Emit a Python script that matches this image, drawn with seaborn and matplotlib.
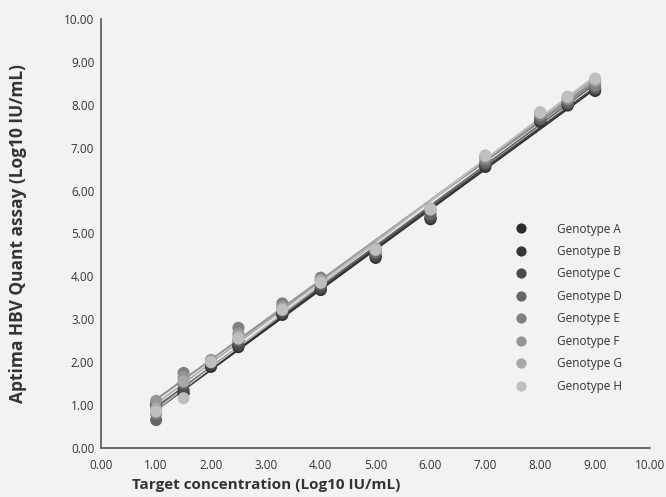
import numpy as np
import pandas as pd
import matplotlib
matplotlib.use("Agg")
import matplotlib.pyplot as plt
import seaborn as sns

# target concentrations (Log10 IU/mL)
target = [1.0, 1.5, 2.0, 2.5, 3.3, 4.0, 5.0, 6.0, 7.0, 8.0, 8.5, 9.0]

geno_a = [0.95, 1.27, 1.89, 2.35, 3.10, 3.68, 4.43, 5.33, 6.55, 7.60, 7.98, 8.32]
geno_b = [1.00, 1.30, 1.92, 2.38, 3.12, 3.70, 4.45, 5.35, 6.57, 7.62, 8.00, 8.34]
geno_c = [1.05, 1.35, 1.95, 2.40, 3.15, 3.72, 4.48, 5.38, 6.60, 7.65, 8.02, 8.36]
geno_d = [0.65, 1.50, 2.00, 2.50, 3.20, 3.80, 4.55, 5.45, 6.65, 7.68, 8.05, 8.40]
geno_e = [0.80, 1.75, 2.05, 2.80, 3.37, 3.97, 4.60, 5.55, 6.72, 7.75, 8.12, 8.45]
geno_f = [1.10, 1.65, 2.04, 2.67, 3.30, 3.92, 4.62, 5.56, 6.78, 7.80, 8.15, 8.55]
geno_g = [0.92, 1.55, 2.02, 2.60, 3.25, 3.90, 4.65, 5.58, 6.80, 7.82, 8.18, 8.58]
geno_h = [0.85, 1.16, 2.00, 2.55, 3.22, 3.85, 4.62, 5.56, 6.82, 7.82, 8.19, 8.61]

labels = ["Genotype A", "Genotype B", "Genotype C", "Genotype D",
          "Genotype E", "Genotype F", "Genotype G", "Genotype H"]
colors = ["#2b2b2b", "#363636", "#4a4a4a", "#656565",
          "#808080", "#959595", "#a8a8a8", "#bfbfbf"]
ticks = [0, 1, 2, 3, 4, 5, 6, 7, 8, 9, 10]

series = [geno_a, geno_b, geno_c, geno_d, geno_e, geno_f, geno_g, geno_h]
df = pd.concat([
    pd.DataFrame({"target": target, "measured": vals, "genotype": lab})
    for lab, vals in zip(labels, series)
], ignore_index=True)

sns.set_theme(style="white")
plt.rcParams["font.family"] = ["Open Sans", "DejaVu Sans"]
bg = "#f2f2f2"
axis_col = "#555555"
text_col = "#333333"

fig = plt.figure(figsize=(6.66, 4.97), dpi=100, facecolor=bg)
ax = fig.add_axes([0.152, 0.0986, 0.824, 0.8634])
ax.set_facecolor(bg)

# regression line for each genotype
for lab, col in zip(labels, colors):
    sub = df[df["genotype"] == lab]
    sns.regplot(data=sub, x="target", y="measured", ax=ax, scatter=False,
                ci=None, color=col, line_kws=dict(lw=1.2, zorder=2))

sns.scatterplot(data=df, x="target", y="measured", hue="genotype",
                hue_order=labels, palette=colors, s=75, edgecolor="none",
                ax=ax, zorder=3)

ax.set_xlim(0, 10)
ax.set_ylim(0, 10)
ax.set_xticks(ticks)
ax.set_yticks(ticks)
ax.set_xticklabels([f"{t:.2f}" for t in ticks])
ax.set_yticklabels([f"{t:.2f}" for t in ticks])
ax.tick_params(direction="in", length=8, width=1, color=axis_col,
               labelsize=8.5, labelcolor=text_col)
ax.tick_params(axis="x", pad=8)
ax.tick_params(axis="y", pad=5)

sns.despine(ax=ax)
for side in ["left", "bottom"]:
    ax.spines[side].set_color(axis_col)
    ax.spines[side].set_linewidth(1.2)

ax.set_xlabel("Target concentration (Log10 IU/mL)", fontsize=11,
              fontweight="bold", color=text_col)
ax.set_ylabel("Aptima HBV Quant assay (Log10 IU/mL)", fontsize=12.5,
              fontweight="bold", color=text_col)
ax.xaxis.set_label_coords(0.30, -0.07)
ax.yaxis.set_label_coords(-0.135, 0.5)

ax.legend(loc="upper left", bbox_to_anchor=(0.735, 0.55), frameon=False,
          fontsize=8.5, labelspacing=0.8, handlelength=1.0, handletextpad=2.5,
          labelcolor=text_col, markerscale=0.85)

fig.savefig("out.png", dpi=100, facecolor=bg)
